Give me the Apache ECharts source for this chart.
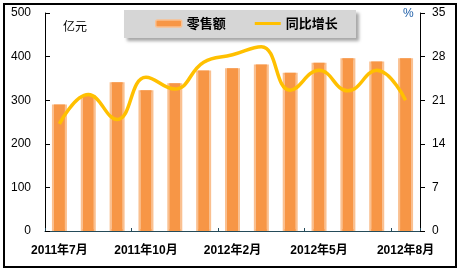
<!DOCTYPE html>
<html>
<head>
<meta charset="utf-8">
<script src="https://cdn.jsdelivr.net/npm/echarts@6/dist/echarts.min.js"></script>
<style>html,body{margin:0;padding:0;background:#fff;}#c{width:463px;height:274px;}</style>
</head>
<body>
<div id="c"></div>
<script>
var categories = ['2011年7月','2011年8月','2011年9月','2011年10月','2011年11月','2011年12月','2012年2月','2012年3月','2012年4月','2012年5月','2012年6月','2012年7月','2012年8月'];
var retailSales = [290, 310, 341, 323, 339, 368, 373, 382, 363, 386, 396, 389, 396];
var yoyGrowth = [17.2, 21.9, 17.9, 24.7, 22.8, 27.1, 28.3, 29.6, 22.6, 25.8, 22.5, 25.8, 21.0];
var leftTicks = [0, 100, 200, 300, 400, 500];
var rightTicks = [0, 7, 14, 21, 28, 35];

var FONT = "'Liberation Sans', Arial, 'Noto Sans CJK SC', sans-serif";
var chart = echarts.init(document.getElementById('c'), null, {renderer: 'canvas'});
chart.setOption({
  backgroundColor: '#ffffff',
  animation: false,
  textStyle: {fontFamily: FONT},
  grid: {left: 45, right: 43, top: 13, bottom: 43, containLabel: false},
  graphic: [
    {type: 'rect', z: 0, shape: {x: 4, y: 4, width: 452, height: 263},
     style: {fill: 'transparent', stroke: '#000', lineWidth: 2}},
    {type: 'rect', z: 1, shape: {x: 124, y: 10, width: 232, height: 28},
     style: {fill: '#D6D6D6', shadowBlur: 3, shadowOffsetX: 3, shadowOffsetY: 3, shadowColor: 'rgba(0,0,0,0.35)'}},
    {type: 'text', z: 5, left: 63, top: 20,
     style: {text: '亿元', font: "12px 'Noto Sans CJK SC', sans-serif", fill: '#000'}},
    {type: 'text', z: 5, left: 403, top: 8,
     style: {text: '%', font: "12px " + FONT, fill: '#1F5FA8'}}
  ],
  legend: {
    left: 155, top: 17, padding: 0, itemGap: 29, itemWidth: 26, itemHeight: 7,
    symbolKeepAspect: true,
    textStyle: {fontFamily: "'Noto Sans CJK SC', sans-serif", fontSize: 13, fontWeight: 'bold', color: '#000'},
    data: [
      {name: '零售额', itemStyle: {color: '#F79646', borderColor: '#FAC090', borderWidth: 1.5}},
      {name: '同比增长', icon: 'path://M0,0L26,0L26,3L0,3Z', itemStyle: {color: '#FFC000', borderWidth: 0}}
    ]
  },
  xAxis: [
    {type: 'category', data: categories, gridIndex: 0,
     axisLine: {lineStyle: {color: '#244B5A', width: 1}},
     axisTick: {show: true, inside: true, length: 3, interval: 2, lineStyle: {color: '#244B5A'}},
     axisLabel: {interval: 2, margin: 14, fontFamily: FONT, fontSize: 12, fontWeight: 'bold', color: '#000'},
     splitLine: {show: false}},
    {type: 'category', data: categories, gridIndex: 0, show: false}
  ],
  yAxis: [
    {type: 'value', min: leftTicks[0], max: leftTicks[leftTicks.length - 1], interval: 100,
     axisLine: {show: true, lineStyle: {color: '#000'}},
     axisTick: {show: true, inside: true, length: 5, lineStyle: {color: '#000'}},
     axisLabel: {margin: 14, fontFamily: FONT, fontSize: 12, color: '#000'},
     splitLine: {show: false}},
    {type: 'value', min: rightTicks[0], max: rightTicks[rightTicks.length - 1], interval: 7, position: 'right',
     axisLine: {show: true, lineStyle: {color: '#000'}},
     axisTick: {show: true, inside: false, length: 5, lineStyle: {color: '#000'}},
     axisLabel: {margin: 12, fontFamily: FONT, fontSize: 12, color: '#000'},
     splitLine: {show: false}}
  ],
  series: [
    {name: '零售额边框', type: 'bar', xAxisIndex: 0, yAxisIndex: 0, data: retailSales, barWidth: 15, z: 2,
     itemStyle: {color: '#ffffff', borderColor: '#FAC090', borderWidth: 2}},
    {name: '零售额', type: 'bar', xAxisIndex: 1, yAxisIndex: 0, data: retailSales, barWidth: 11, z: 3,
     itemStyle: {color: '#F79646'}},
    {name: '同比增长', type: 'line', xAxisIndex: 0, yAxisIndex: 1, data: yoyGrowth, smooth: 0.45, z: 4,
     symbol: 'none', lineStyle: {color: '#FFC000', width: 3.5}, itemStyle: {color: '#FFC000'}}
  ]
});
</script>
</body>
</html>
